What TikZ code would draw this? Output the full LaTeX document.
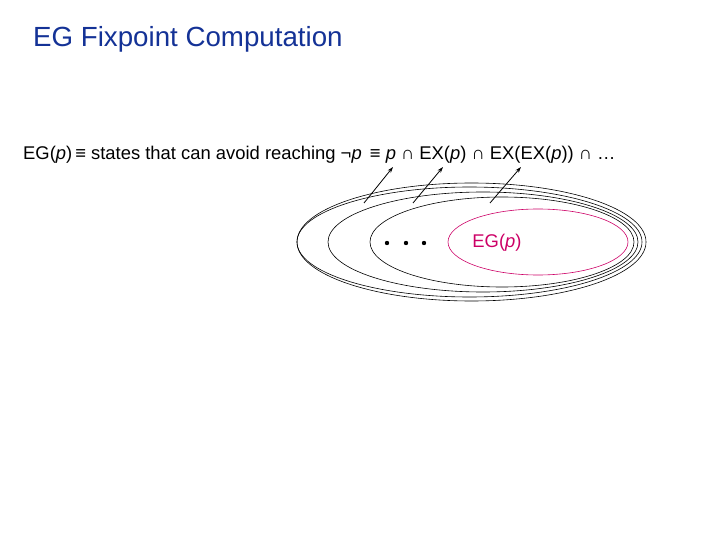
\documentclass[tikz,border=0pt]{standalone}
\usepackage{fontspec}
\setmainfont{Liberation Sans}
\usetikzlibrary{arrows.meta}
\definecolor{titleblue}{RGB}{20,50,150}
\definecolor{egred}{RGB}{204,0,102}
\tikzset{
  ring/.style={black, line width=0.6pt},
  egring/.style={egred, line width=0.6pt},
  pointer/.style={black, line width=0.8pt, -{Stealth[length=6pt,width=4pt]}}
}
\begin{document}
\begin{tikzpicture}[x=1pt, y=-1pt]
    \useasboundingbox (0,0) rectangle (720,540);
    \node[titleblue, anchor=base west, inner sep=0pt, font=\fontsize{27.7}{32}\selectfont] (title) at (33,47) {EG Fixpoint Computation};
    \node[black, anchor=base west, inner sep=0pt, font=\fontsize{18.4}{22}\selectfont] (defn) at (23,160)
      {EG(\textit{p})\,≡ states that can avoid reaching ¬\textit{p} \,≡ \textit{p} ∩ EX(\textit{p}) ∩ EX(EX(\textit{p})) ∩ …};

    % nested approximations
    \draw[ring] (471.5,242) ellipse [x radius=174.5pt, y radius=59pt];
    \draw[ring] (469.5,242) ellipse [x radius=172.5pt, y radius=55pt];
    \draw[ring] (483,242) ellipse [x radius=155pt, y radius=50pt];
    \draw[ring] (502,242) ellipse [x radius=132pt, y radius=45pt];
    \draw[egring] (538,242) ellipse [x radius=90pt, y radius=33pt];
    \node[egred, inner sep=0pt, font=\fontsize{18.4}{22}\selectfont] (eg) at (497,243) {EG(\textit{p})};

    \fill (387,243) circle (2.2pt);
    \fill (406,243) circle (2.2pt);
    \fill (424,243) circle (2.2pt);

    \coordinate (t1) at (364,203);
    \coordinate (h1) at (393,167);
    \coordinate (t2) at (413,203);
    \coordinate (h2) at (443,167);
    \coordinate (t3) at (490,203);
    \coordinate (h3) at (521,167);
    \draw[pointer] (t1) -- (h1);
    \draw[pointer] (t2) -- (h2);
    \draw[pointer] (t3) -- (h3);
  \end{tikzpicture}
\end{document}
